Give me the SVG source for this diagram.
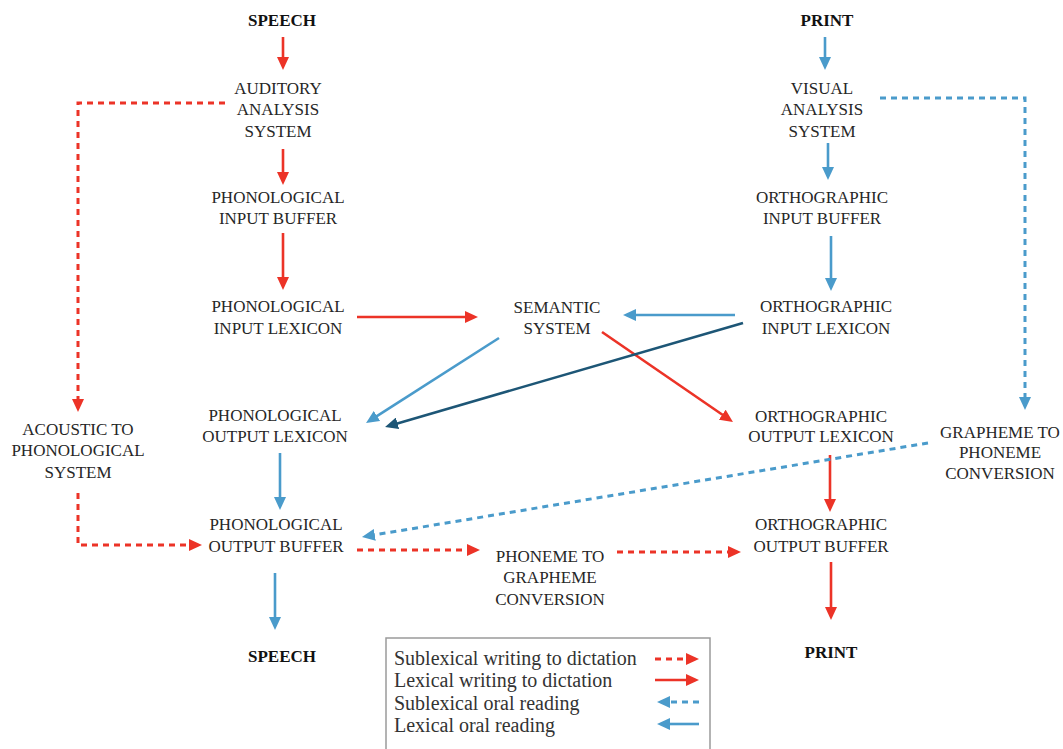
<svg xmlns="http://www.w3.org/2000/svg" width="1063" height="749" viewBox="0 0 1063 749">
  <defs>
    <style>
      .lbl { font-family: "Liberation Serif", "Times New Roman", serif; font-size: 17px; fill: #262626; text-anchor: middle; }
      .io { font-weight: bold; fill: #111; }
      .leg { font-family: "Liberation Serif", "Times New Roman", serif; font-size: 20px; fill: #333; }
      .red { stroke: #ec3327; fill: none; stroke-width: 2.6; }
      .blue { stroke: #4a9bcb; fill: none; stroke-width: 2.6; }
      .dark { stroke: #1d5676; fill: none; stroke-width: 2.6; }
      .dot { stroke-width: 3; stroke-dasharray: 6 5; }
      .r { marker-end: url(#ahRed); }
      .b { marker-end: url(#ahBlue); }
      .d { marker-end: url(#ahDark); }
    </style>
    <marker id="ahRed" markerUnits="userSpaceOnUse" markerWidth="13" markerHeight="12" refX="2" refY="6" orient="auto">
      <path d="M0,0 L13,6 L0,12 z" fill="#ec3327"/>
    </marker>
    <marker id="ahBlue" markerUnits="userSpaceOnUse" markerWidth="13" markerHeight="12" refX="2" refY="6" orient="auto">
      <path d="M0,0 L13,6 L0,12 z" fill="#4a9bcb"/>
    </marker>
    <marker id="ahDark" markerUnits="userSpaceOnUse" markerWidth="13" markerHeight="12" refX="2" refY="6" orient="auto">
      <path d="M0,0 L13,6 L0,12 z" fill="#1d5676"/>
    </marker>
  </defs>

  <rect width="1063" height="749" fill="#fff"/>

  <!-- connectors -->
  <g id="connectors">
    <!-- lexical writing to dictation (red solid) -->
    <line class="red r" x1="283" y1="37" x2="283" y2="59"/>
    <line class="red r" x1="283" y1="149" x2="283" y2="174"/>
    <line class="red r" x1="283" y1="233" x2="283" y2="279"/>
    <line class="red r" x1="357" y1="317" x2="467" y2="317"/>
    <line class="red r" x1="602" y1="332" x2="723.9" y2="415.8"/>
    <line class="red r" x1="830" y1="455" x2="830" y2="501"/>
    <line class="red r" x1="831" y1="562" x2="831" y2="609"/>
    <!-- lexical oral reading (blue solid) -->
    <line class="blue b" x1="825" y1="37" x2="825" y2="59"/>
    <line class="blue b" x1="828" y1="143" x2="828" y2="169"/>
    <line class="blue b" x1="831" y1="236" x2="831" y2="280"/>
    <line class="blue b" x1="735" y1="315" x2="634" y2="315"/>
    <line class="blue b" x1="499" y1="338" x2="375.3" y2="417.1"/>
    <line class="blue b" x1="280" y1="453" x2="280" y2="499"/>
    <line class="blue b" x1="275" y1="573" x2="275" y2="619"/>
    <!-- direct orthographic to phonological lexicon -->
    <line class="dark d" x1="743" y1="323" x2="395.6" y2="423.9"/>
    <!-- sublexical writing to dictation (red dotted) -->
    <polyline class="red dot r" points="225,103 78,103 78,401"/>
    <polyline class="red dot r" points="78,493 78,545 191,545"/>
    <line class="red dot r" x1="357" y1="550" x2="469" y2="550"/>
    <line class="red dot r" x1="617" y1="552" x2="730" y2="552"/>
    <!-- sublexical oral reading (blue dotted) -->
    <polyline class="blue dot b" points="880,98 1025,98 1025,399"/>
    <line class="blue dot b" x1="928" y1="443" x2="372.8" y2="535.2"/>
  </g>

  <!-- nodes -->
  <g id="speech-in"><text class="lbl io" x="282" y="26">SPEECH</text></g>
  <g id="auditory-analysis">
    <text class="lbl" x="278" y="94">AUDITORY</text>
    <text class="lbl" x="278" y="115">ANALYSIS</text>
    <text class="lbl" x="278" y="137">SYSTEM</text>
  </g>
  <g id="phonological-input-buffer">
    <text class="lbl" x="278" y="203">PHONOLOGICAL</text>
    <text class="lbl" x="278" y="224">INPUT BUFFER</text>
  </g>
  <g id="phonological-input-lexicon">
    <text class="lbl" x="278" y="312">PHONOLOGICAL</text>
    <text class="lbl" x="278" y="334">INPUT LEXICON</text>
  </g>
  <g id="semantic-system">
    <text class="lbl" x="557" y="313">SEMANTIC</text>
    <text class="lbl" x="557" y="334">SYSTEM</text>
  </g>
  <g id="orthographic-input-lexicon">
    <text class="lbl" x="826" y="312">ORTHOGRAPHIC</text>
    <text class="lbl" x="826" y="334">INPUT LEXICON</text>
  </g>
  <g id="acoustic-to-phonological">
    <text class="lbl" x="78" y="435">ACOUSTIC TO</text>
    <text class="lbl" x="78" y="456">PHONOLOGICAL</text>
    <text class="lbl" x="78" y="478">SYSTEM</text>
  </g>
  <g id="phonological-output-lexicon">
    <text class="lbl" x="275" y="421">PHONOLOGICAL</text>
    <text class="lbl" x="275" y="442">OUTPUT LEXICON</text>
  </g>
  <g id="orthographic-output-lexicon">
    <text class="lbl" x="821" y="422">ORTHOGRAPHIC</text>
    <text class="lbl" x="821" y="442">OUTPUT LEXICON</text>
  </g>
  <g id="grapheme-to-phoneme">
    <text class="lbl" x="1000" y="438">GRAPHEME TO</text>
    <text class="lbl" x="1000" y="458">PHONEME</text>
    <text class="lbl" x="1000" y="479">CONVERSION</text>
  </g>
  <g id="phonological-output-buffer">
    <text class="lbl" x="276" y="530">PHONOLOGICAL</text>
    <text class="lbl" x="276" y="552">OUTPUT BUFFER</text>
  </g>
  <g id="phoneme-to-grapheme">
    <text class="lbl" x="550" y="562">PHONEME TO</text>
    <text class="lbl" x="550" y="583">GRAPHEME</text>
    <text class="lbl" x="550" y="605">CONVERSION</text>
  </g>
  <g id="orthographic-output-buffer">
    <text class="lbl" x="821" y="530">ORTHOGRAPHIC</text>
    <text class="lbl" x="821" y="552">OUTPUT BUFFER</text>
  </g>
  <g id="speech-out"><text class="lbl io" x="282" y="662">SPEECH</text></g>
  <g id="print-in"><text class="lbl io" x="827" y="26">PRINT</text></g>
  <g id="visual-analysis">
    <text class="lbl" x="822" y="94">VISUAL</text>
    <text class="lbl" x="822" y="115">ANALYSIS</text>
    <text class="lbl" x="822" y="137">SYSTEM</text>
  </g>
  <g id="orthographic-input-buffer">
    <text class="lbl" x="822" y="203">ORTHOGRAPHIC</text>
    <text class="lbl" x="822" y="224">INPUT BUFFER</text>
  </g>
  <g id="print-out"><text class="lbl io" x="831" y="658">PRINT</text></g>

  <!-- legend -->
  <g id="legend">
    <rect x="386" y="638" width="324" height="130" fill="#fff" stroke="#9a9a9a" stroke-width="1.5"/>
    <text class="leg" x="394" y="665">Sublexical writing to dictation</text>
    <text class="leg" x="394" y="687">Lexical writing to dictation</text>
    <text class="leg" x="394" y="710">Sublexical oral reading</text>
    <text class="leg" x="394" y="732">Lexical oral reading</text>
    <line class="red dot r" x1="655" y1="659" x2="688" y2="659"/>
    <line class="red r" x1="655" y1="680" x2="688" y2="680"/>
    <line class="blue dot b" x1="699" y1="702" x2="668" y2="702"/>
    <line class="blue b" x1="699" y1="724" x2="668" y2="724"/>
  </g>
</svg>
